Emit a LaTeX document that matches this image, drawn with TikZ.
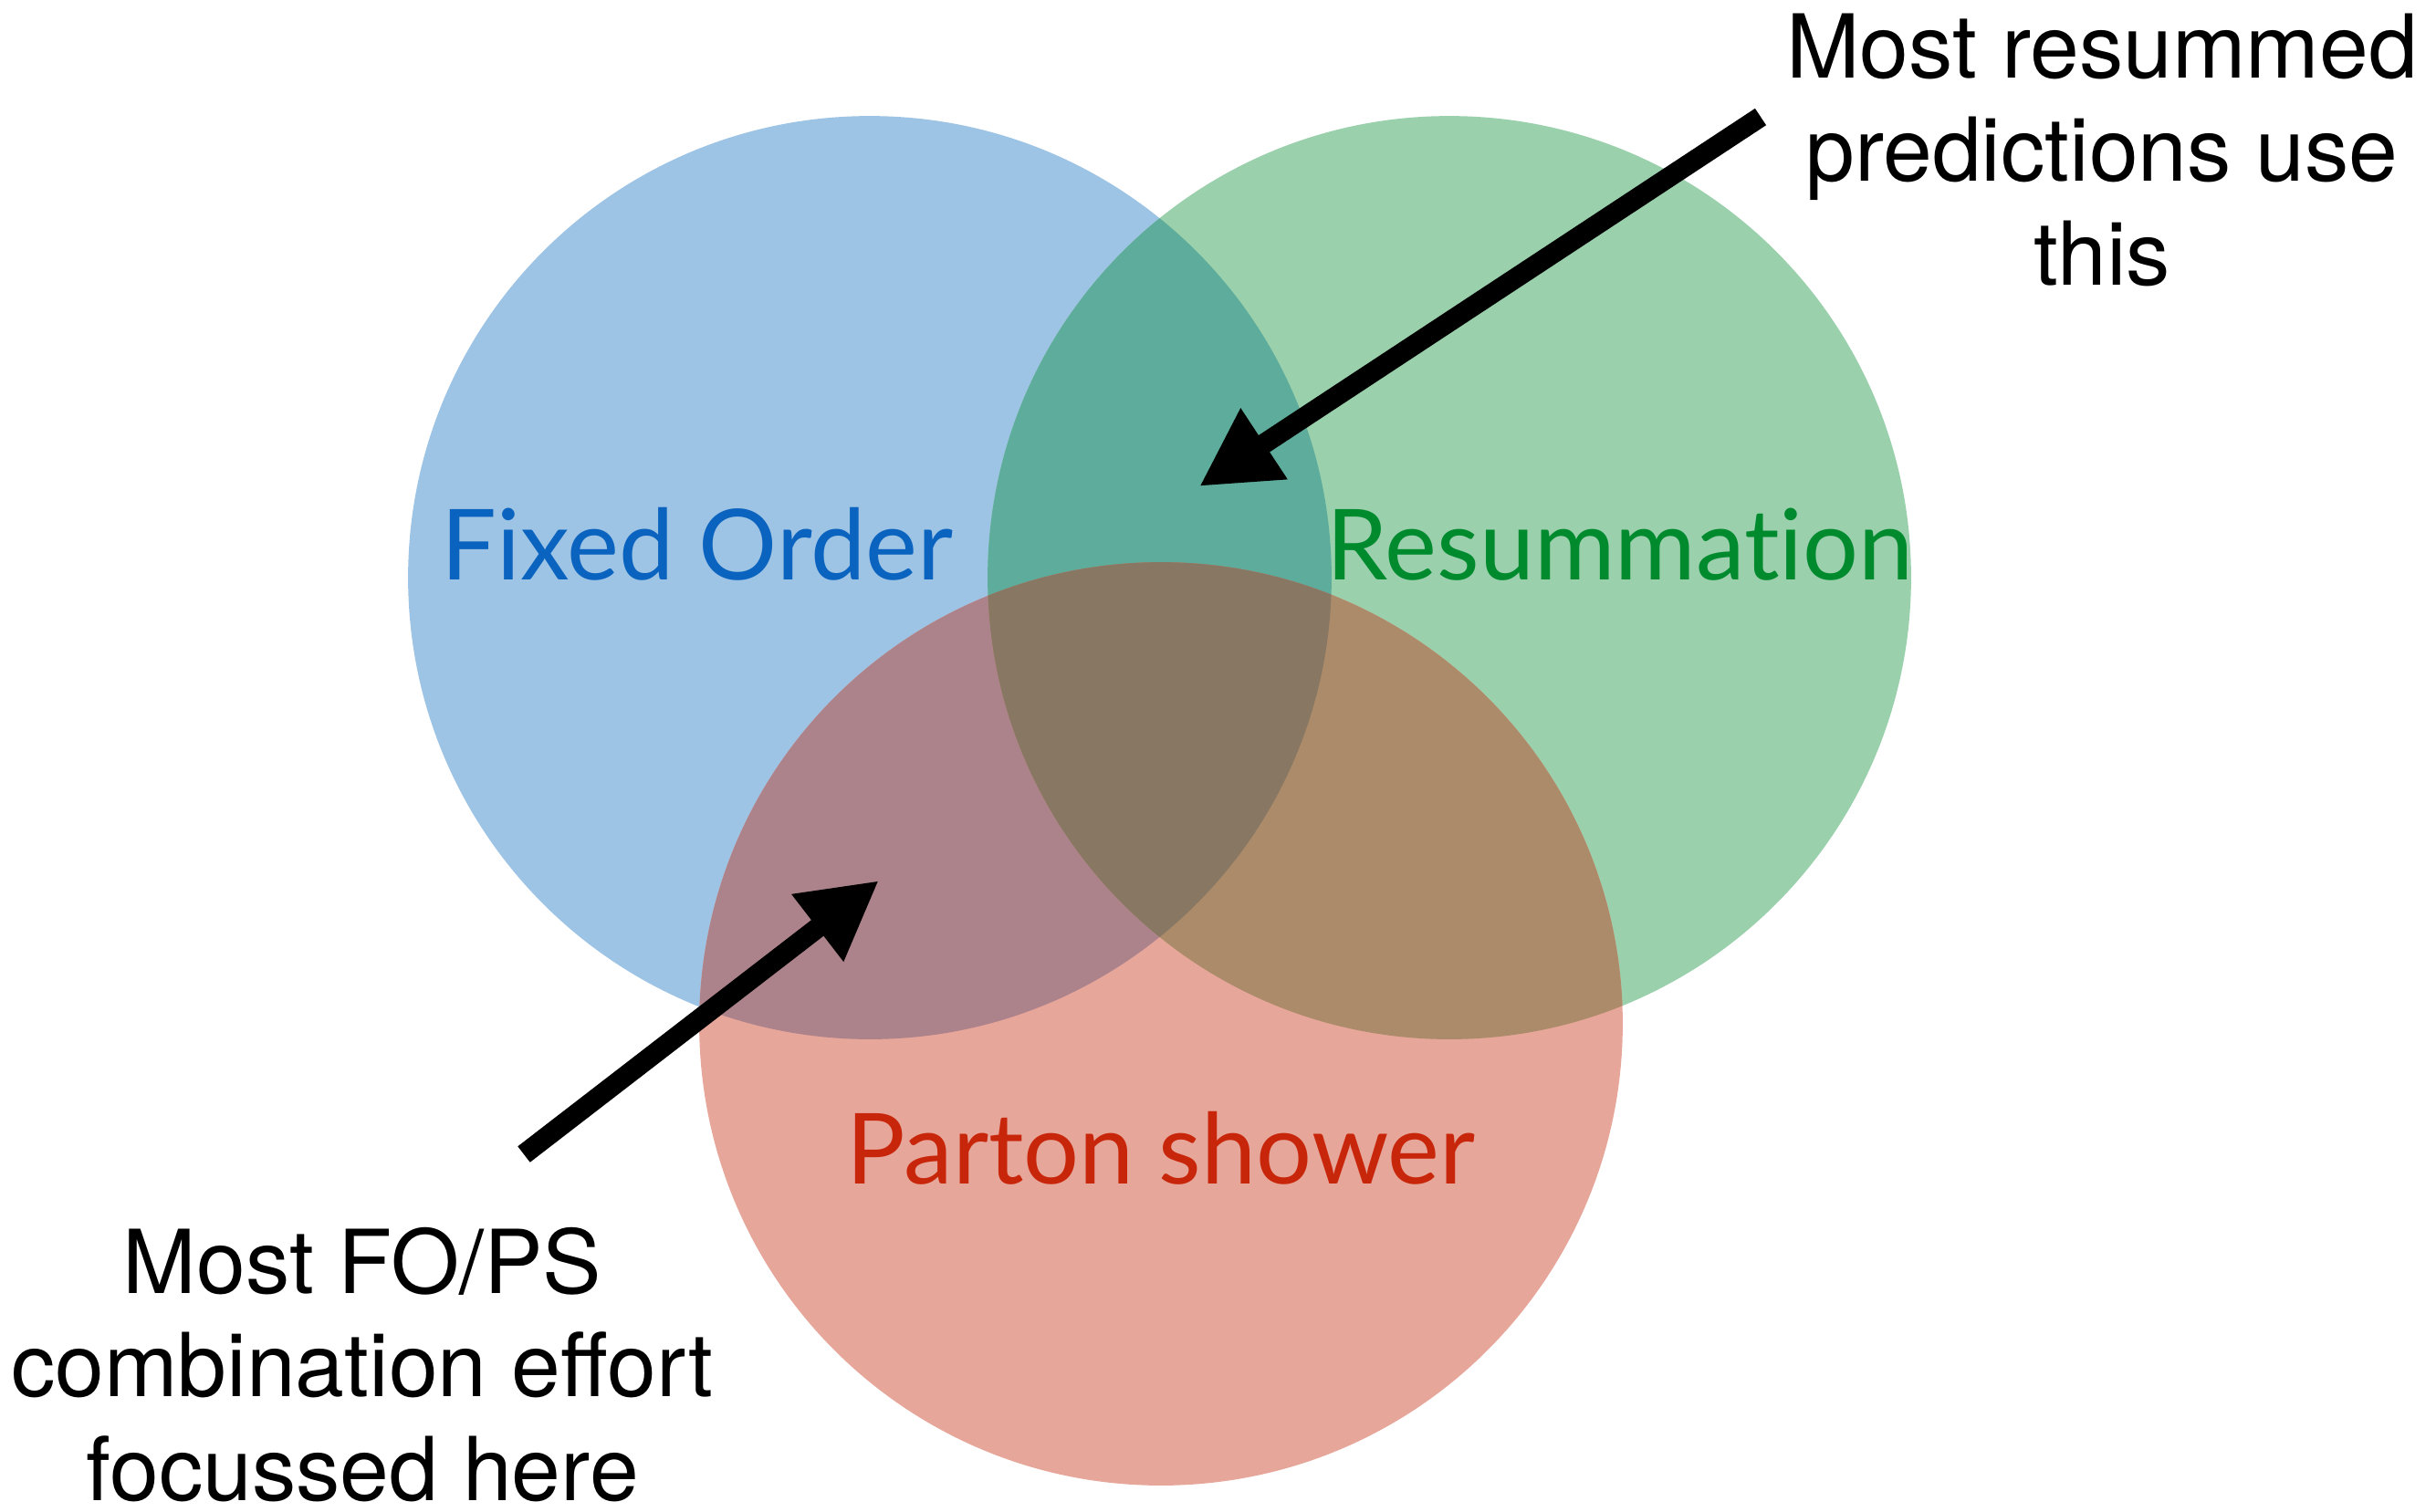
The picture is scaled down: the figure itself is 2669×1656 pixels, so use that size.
\documentclass[tikz,border=0pt]{standalone}
\usepackage{fontspec}
\setmainfont{TeX Gyre Heros}
\newfontfamily\labelfont[Ligatures=NoCommon]{Lato}
\usepackage{tikz}
\usetikzlibrary{arrows.meta,positioning}
\definecolor{fobg}{HTML}{9DC3E5}
\definecolor{resbg}{HTML}{9AD0AC}
\definecolor{psbg}{HTML}{E7A69A}
\definecolor{foresbg}{HTML}{5EAC9C}
\definecolor{fopsbg}{HTML}{AD838B}
\definecolor{respsbg}{HTML}{AB8B69}
\definecolor{allbg}{HTML}{887762}
\definecolor{fotext}{HTML}{0A63BE}
\definecolor{restext}{HTML}{008A2E}
\definecolor{pstext}{HTML}{C8260A}
\tikzset{
  arealabel/.style={anchor=base,inner sep=0pt,
                    font=\labelfont\fontsize{30.6}{36}\selectfont},
  notetext/.style={anchor=base,inner sep=0pt,align=center,
                   font=\fontsize{27.5}{32.2}\selectfont},
  pointarr/.style={-{Triangle[length=0.85cm,width=0.87cm]},line width=0.22cm,
                   color=black}
}
\newcommand{\rad}{5.056cm}

\begin{document}
\begin{tikzpicture}[x=0.01cm,y=-0.01cm]
  \useasboundingbox (0,0) rectangle (2669,1656);
  \coordinate (fo) at (953,633);
  \coordinate (res) at (1588,633);
  \coordinate (ps) at (1272,1122);
  % the three sets
  \fill[fobg] (fo) circle (\rad);
  \fill[resbg] (res) circle (\rad);
  \fill[psbg] (ps) circle (\rad);
  \begin{scope}
    \clip (fo) circle (\rad);
    \fill[foresbg] (res) circle (\rad);
    \fill[fopsbg] (ps) circle (\rad);
  \end{scope}
  \begin{scope}
    \clip (res) circle (\rad);
    \fill[respsbg] (ps) circle (\rad);
    \clip (ps) circle (\rad);
    \fill[allbg] (fo) circle (\rad);
  \end{scope}
  % labels
  \node[arealabel,text=fotext] (folabel) at (764,635) {Fixed Order};
  \node[arealabel,text=restext] (reslabel) at (1775,635) {Resummation};
  \node[arealabel,text=pstext] (pslabel) at (1272,1297) {Parton shower};
  % notes (base = last line)
  \node[notetext] (resnote) at (2303,312)
    {Most resummed\\predictions use\\this};
  \node[notetext] (fopsnote) at (397,1644)
    {Most FO/PS\\combination effort\\focussed here};
  \coordinate (restail) at (1929,128);
  \coordinate (reshead) at (1314,533);
  \coordinate (fopstail) at (574,1265);
  \coordinate (fopshead) at (963,965);
  \draw[pointarr] (restail) -- (reshead);
  \draw[pointarr] (fopstail) -- (fopshead);
\end{tikzpicture}
\end{document}
